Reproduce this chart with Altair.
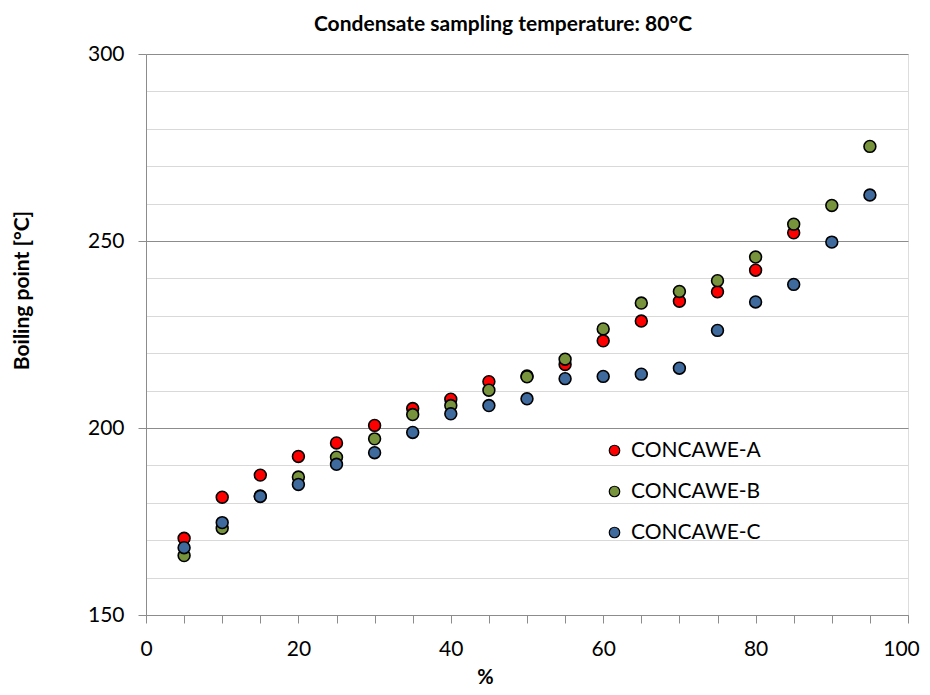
import altair as alt
import pandas as pd

pct = [5, 10, 15, 20, 25, 30, 35, 40, 45, 50, 55, 60, 65, 70, 75, 80, 85, 90, 95]
series_names = ["CONCAWE-A", "CONCAWE-B", "CONCAWE-C"]
concawe_a = [170.5, 181.5, 187.4, 192.4, 196.0, 200.7, 205.2, 207.7, 212.4, 213.9,
             217.0, 223.3, 228.6, 233.9, 236.4, 242.2, 252.2]
concawe_b = [165.9, 173.2, 181.8, 186.9, 192.2, 197.1, 203.6, 206.0, 210.1, 213.7,
             218.4, 226.5, 233.4, 236.5, 239.4, 245.7, 254.5, 259.5, 275.3]
concawe_c = [168.0, 174.7, 181.7, 184.9, 190.3, 193.4, 198.8, 203.8, 206.0, 207.8,
             213.2, 213.8, 214.4, 216.0, 226.1, 233.7, 238.4, 249.7, 262.3]
colors = ["#FF0000", "#77933C", "#3E6A9E"]
x_ticks = list(range(0, 101, 5))
y_ticks = list(range(150, 301, 10))

rows = []
for name, vals in zip(series_names, [concawe_a, concawe_b, concawe_c]):
    for p, v in zip(pct, vals):
        rows.append({"pct": p, "bp": v, "series": name})
df = pd.DataFrame(rows)

FONT = "Lato"
GRAY = "#8c8c8c"

chart = alt.Chart(df).mark_point(
    filled=True, shape="circle", size=140, stroke="black", strokeWidth=1.6, opacity=1
).encode(
    x=alt.X("pct:Q",
            scale=alt.Scale(domain=[0, 100], nice=False, zero=False),
            axis=alt.Axis(
                values=x_ticks, grid=False, title="%",
                labelExpr="datum.value % 20 === 0 ? datum.label : ''",
                labelOffset=alt.condition("datum.value === 100", alt.value(-7), alt.value(0)),
                labelOverlap=False, labelFlush=False, labelBound=False,
                tickSize=8, tickColor=GRAY, domainColor=GRAY,
                labelFont=FONT, labelFontSize=21, labelColor="#000000",
                labelPadding=15,
                titleFont=FONT, titleFontSize=20, titleFontWeight="bold",
                titleColor="#000000",
                titleX=339, titleY=62, titleBaseline="middle", titleAlign="center",
            )),
    y=alt.Y("bp:Q",
            scale=alt.Scale(domain=[150, 300], nice=False, zero=False),
            axis=alt.Axis(
                values=y_ticks, grid=True,
                gridColor=alt.condition("datum.value % 50 === 0", alt.value(GRAY), alt.value("#d9d9d9")),
                tickColor=alt.condition("datum.value % 50 === 0", alt.value(GRAY), alt.value("transparent")),
                labelExpr="datum.value % 50 === 0 ? datum.label : ''",
                labelOverlap=False, labelFlush=False,
                tickSize=8, domainColor=GRAY, gridWidth=1.2,
                labelFont=FONT, labelFontSize=21, labelColor="#000000",
                labelPadding=14,
                title="Boiling point [°C]",
                titleFont=FONT, titleFontSize=21, titleFontWeight="bold",
                titleColor="#000000",
                titleAngle=270, titleX=-124, titleY=236,
                titleBaseline="middle", titleAlign="center",
            )),
    color=alt.Color("series:N",
                    scale=alt.Scale(domain=series_names, range=colors),
                    legend=alt.Legend(
                        title=None, orient="none", legendX=458, legendY=386,
                        padding=0, rowPadding=19, labelOffset=6,
                        symbolType="circle", symbolSize=110,
                        symbolStrokeColor="black", symbolStrokeWidth=1.2,
                        labelFont=FONT, labelFontSize=21, labelColor="#000000",
                    )),
    order=alt.Order("series:N"),
).properties(
    width=762,
    height=561,
    title=alt.TitleParams(
        "Condensate sampling temperature: 80°C",
        font=FONT, fontSize=21, fontWeight="bold", color="#000000",
        anchor="middle", frame="group", dx=-24, offset=-9, baseline="alphabetic",
    ),
    autosize=alt.AutoSizeParams(type="none"),
    padding={"left": 138, "top": 46, "right": 14, "bottom": 72},
).configure_view(stroke=None).configure(background="white")

chart.save("out.html", embed_options={"renderer": "svg", "actions": False})
